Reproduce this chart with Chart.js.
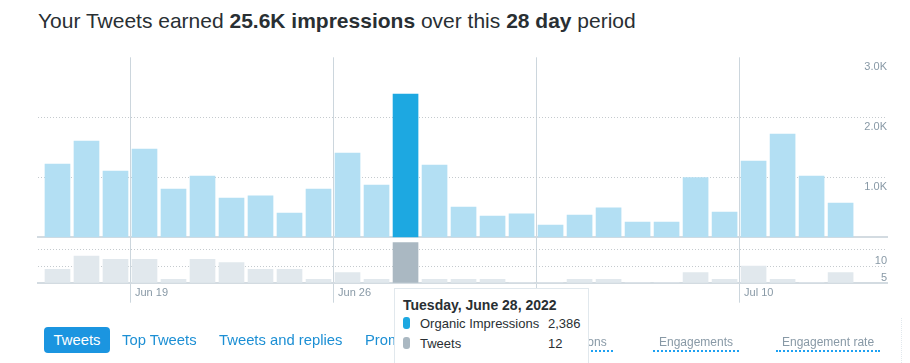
<!DOCTYPE html>
<html>
<head>
<meta charset="utf-8">
<script src="https://cdn.jsdelivr.net/npm/chart.js@4"></script>
<style>
  html, body { margin: 0; padding: 0; background: #fff; }
  body { width: 910px; height: 363px; position: relative; overflow: hidden; font-family: 'Liberation Sans', Arial, sans-serif; }
  canvas { position: absolute; left: 0; top: 0; }
  h1 { position: absolute; left: 38px; top: 9px; margin: 0; font-size: 21px; font-weight: normal; color: #292f33; line-height: 24px; white-space: nowrap; }
  h1 b { font-weight: bold; }
  .tab { position: absolute; top: 327px; height: 26px; line-height: 26px; font-size: 14.8px; color: #1c8fd4; white-space: nowrap; }
  .tab.active { background: #1b95e0; color: #fff; border-radius: 4px; width: 66px; text-align: center; }
  .metric { position: absolute; top: 335px; line-height: 15px; font-size: 12px; color: #8899a6; padding: 0 6px; border-bottom: 2px dotted #1da1f2; white-space: nowrap; }
  .edge { position: absolute; left: 901px; top: 318px; height: 45px; border-left: 1px dotted #e1e8ed; }
  #tip { position: absolute; left: 394px; top: 288px; width: 195px; height: 90px; box-sizing: border-box; background: #fff; border: 1px solid #e1e8ed; padding: 8px 0 0 8px; color: #292f33; }
  #tip .title { font-weight: bold; font-size: 14px; line-height: 17px; }
  #tip .row { font-size: 13px; line-height: 20px; height: 20px; white-space: nowrap; }
  #tip .mark { display: inline-block; width: 7px; height: 12px; border-radius: 3px; vertical-align: -1px; margin-right: 10px; }
  #tip .name { display: inline-block; width: 128px; }
</style>
</head>
<body>
<h1>Your Tweets earned <b>25.6K impressions</b> over this <b>28 day</b> period</h1>
<canvas id="impressionsChart" width="910" height="363"></canvas>
<canvas id="tweetsChart" width="910" height="363"></canvas>

<div class="tab active" style="left:44px">Tweets</div>
<div class="tab" style="left:122px">Top Tweets</div>
<div class="tab" style="left:219px">Tweets and replies</div>
<div class="tab" style="left:365px">Promoted</div>
<div class="metric" style="left:536px">Impressions</div>
<div class="metric" style="left:653px">Engagements</div>
<div class="metric" style="left:776px">Engagement rate</div>
<div class="edge"></div>

<div id="tip">
  <div class="title" id="tipTitle"></div>
  <div class="row"><span class="mark" style="background:#1da8e1"></span><span class="name">Organic Impressions</span><span id="tipImpr"></span></div>
  <div class="row"><span class="mark" style="background:#aab8c2"></span><span class="name">Tweets</span><span id="tipTweets"></span></div>
</div>

<script>
'use strict';

const categories = [
  'Jun 16', 'Jun 17', 'Jun 18', 'Jun 19', 'Jun 20', 'Jun 21', 'Jun 22',
  'Jun 23', 'Jun 24', 'Jun 25', 'Jun 26', 'Jun 27', 'Jun 28', 'Jun 29',
  'Jun 30', 'Jul 1', 'Jul 2', 'Jul 3', 'Jul 4', 'Jul 5', 'Jul 6',
  'Jul 7', 'Jul 8', 'Jul 9', 'Jul 10', 'Jul 11', 'Jul 12', 'Jul 13',
];
const impressions = [
  1220, 1605, 1105, 1470, 805, 1020, 655,
  690, 405, 805, 1405, 870, 2386, 1205,
  505, 355, 390, 205, 370, 490, 255,
  255, 995, 420, 1270, 1720, 1020, 570,
];
const tweets = [
  4, 8, 7, 7, 1, 7, 6,
  4, 4, 1, 3, 1, 12, 1,
  1, 1, 0, 0, 1, 1, 0,
  0, 3, 1, 5, 1, 0, 3,
];
const weekTicks = ['Jun 19', 'Jun 26', 'Jul 3', 'Jul 10'];
const impressionTicks = [1000, 2000, 3000];
const tweetTicks = [5, 10];
const selectedDay = 'Jun 28';

const selected = categories.indexOf(selectedDay);

Chart.defaults.font.family = "'Liberation Sans', Arial, sans-serif";
Chart.defaults.font.size = 11;
Chart.defaults.color = '#8899a6';

// linear x so the week lines can sit between two days
function weekAxis(showLabels) {
  return {
    type: 'linear',
    offset: false,
    min: -0.672,
    max: 28.6,
    afterBuildTicks: (scale) => {
      scale.ticks = weekTicks.map((label) => ({ value: categories.indexOf(label) - 0.5 }));
    },
    grid: {
      offset: false,
      color: '#ccd6dd',
      lineWidth: 1,
      drawTicks: showLabels,
      tickLength: 20,
      tickColor: '#ccd6dd',
    },
    border: { display: true, color: '#d3dbe1', width: 2 },
    ticks: {
      display: showLabels,
      autoSkip: false,
      maxRotation: 0,
      align: 'start',
      mirror: true,
      labelOffset: 5,
      padding: -16.6,
      callback: (value) => categories[Math.round(value + 0.5)],
    },
  };
}

function valueAxis(max, tickValues, format, labelOffset) {
  return {
    position: 'right',
    min: 0,
    max: max,
    afterBuildTicks: (scale) => {
      scale.ticks = tickValues.map((v) => ({ value: v }));
    },
    grid: {
      color: (ctx) => (ctx.tick && ctx.tick.value >= max ? 'rgba(0,0,0,0)' : '#c5cace'),
      lineWidth: 1,
      drawTicks: false,
    },
    border: { display: false, dash: [1, 2] },
    ticks: {
      mirror: true,
      padding: 0,
      labelOffset: labelOffset,
      callback: format,
    },
  };
}

function barChart(canvasId, values, colors, yScale, xScale, padding) {
  return new Chart(document.getElementById(canvasId), {
    type: 'bar',
    data: {
      datasets: [
        {
          data: values.map((v, i) => ({ x: i, y: v })),
          backgroundColor: values.map((v, i) => (i === selected ? colors[1] : colors[0])),
          borderWidth: 0,
          barThickness: 25,
        },
      ],
    },
    options: {
      responsive: false,
      animation: false,
      events: [],
      layout: { padding: padding },
      plugins: { legend: { display: false }, tooltip: { enabled: false } },
      scales: { x: xScale, y: yScale },
    },
  });
}

barChart(
  'impressionsChart',
  impressions,
  ['#b3dff3', '#1da8e1'],
  valueAxis(3000, impressionTicks, (v) => (v / 1000).toFixed(1) + 'K', 10),
  weekAxis(false),
  { left: 38, right: 23, top: 57.3, bottom: 125.7 }
);

barChart(
  'tweetsChart',
  tweets,
  ['#e1e8ed', '#aab8c2'],
  valueAxis(13.5, tweetTicks, (v) => String(v), 11.5),
  weekAxis(true),
  { left: 38, right: 23, top: 237.7, bottom: 80.3 }
);

const day = new Date(selectedDay + ', 2022');
document.getElementById('tipTitle').textContent = day.toLocaleDateString('en-US', {
  weekday: 'long', month: 'long', day: 'numeric', year: 'numeric',
});
document.getElementById('tipImpr').textContent = impressions[selected].toLocaleString('en-US');
document.getElementById('tipTweets').textContent = String(tweets[selected]);
</script>
</body>
</html>
